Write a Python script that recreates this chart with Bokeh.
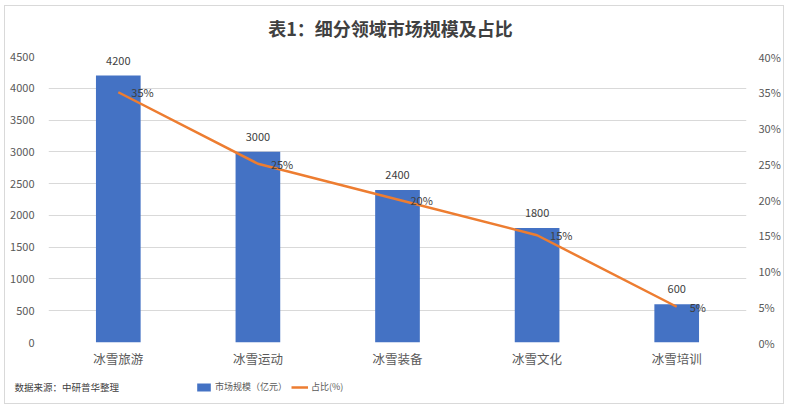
from bokeh.plotting import figure
from bokeh.models import (ColumnDataSource, FactorRange, Range1d, LinearAxis, FixedTicker,
                          PrintfTickFormatter, Label, Legend, LegendItem)
from bokeh.layouts import column
from bokeh.core.properties import value
from bokeh.embed import file_html
from bokeh.resources import INLINE

categories = ["冰雪旅游", "冰雪运动", "冰雪装备", "冰雪文化", "冰雪培训"]
market_size = [4200, 3000, 2400, 1800, 600]
share_pct = [35, 25, 20, 15, 5]
left_ticks = [0, 500, 1000, 1500, 2000, 2500, 3000, 3500, 4000, 4500]
right_ticks = [0, 5, 10, 15, 20, 25, 30, 35, 40]
title_text = "表1：细分领域市场规模及占比"
source_text = "数据来源：中研普华整理"
bar_name = "市场规模（亿元）"
line_name = "占比(%)"

FONT = "Noto Sans CJK SC"
TXT = "#595959"
BLUE = "#4472C4"
ORANGE = "#ED7D31"
W = 778


def blank_fig(h):
    fig = figure(width=W, height=h, x_range=Range1d(0, 10), y_range=Range1d(0, 10),
                 output_backend="svg", toolbar_location=None, title=None,
                 x_axis_location=None, y_axis_location=None,
                 min_border=0, min_border_left=0, min_border_right=0,
                 min_border_top=0, min_border_bottom=0)
    fig.grid.visible = False
    fig.outline_line_color = None
    fig.background_fill_color = "white"
    fig.border_fill_color = "white"
    fig.frame_align = False
    return fig


src = ColumnDataSource(dict(
    cat=categories, size=market_size, pct=share_pct,
    size_lbl=[str(v) for v in market_size],
    pct_lbl=[f"{v}%" for v in share_pct],
))

# header with title
hdr = blank_fig(40)
hdr.add_layout(Label(x=385, y=19, x_units="screen", y_units="screen", text=title_text,
                     text_align="center", text_baseline="middle", text_font=FONT,
                     text_font_size="18px", text_font_style="bold",
                     text_color="#404040"))

p = figure(width=W, height=330, x_range=FactorRange(*categories, range_padding=0),
           y_range=Range1d(0, 4500), output_backend="svg", toolbar_location=None,
           title=None, min_border_left=43, min_border_right=37, min_border_top=10,
           min_border_bottom=34)
p.frame_align = False
p.outline_line_color = None
p.background_fill_color = "white"
p.border_fill_color = "white"
p.extra_y_ranges = {"pct": Range1d(0, 40)}

p.xgrid.grid_line_color = None
p.ygrid.grid_line_color = "#d9d9d9"
p.ygrid.grid_line_width = 1

ya = p.yaxis[0]
ya.ticker = FixedTicker(ticks=left_ticks)
ya.axis_line_color = None
ya.major_tick_line_color = None
ya.minor_tick_line_color = None
ya.major_label_text_font = FONT
ya.major_label_text_font_size = "11px"
ya.major_label_text_color = TXT
ya.major_label_standoff = 8

xa = p.xaxis[0]
xa.axis_line_color = None
xa.major_tick_line_color = None
xa.major_label_text_font = FONT
xa.major_label_text_font_size = "12.5px"
xa.major_label_text_color = TXT
xa.major_label_standoff = 0

ra = LinearAxis(y_range_name="pct", ticker=FixedTicker(ticks=right_ticks),
                formatter=PrintfTickFormatter(format="%d%%"))
ra.axis_line_color = None
ra.major_tick_line_color = None
ra.minor_tick_line_color = None
ra.major_label_text_font = FONT
ra.major_label_text_font_size = "11px"
ra.major_label_text_color = TXT
ra.major_label_standoff = 6
p.add_layout(ra, "right")

p.vbar(x="cat", top="size", width=0.32, source=src, fill_color=BLUE, line_color=None)
p.line(x="cat", y="pct", source=src, y_range_name="pct", line_color=ORANGE,
       line_width=2.5)

p.text(x="cat", y="size", text="size_lbl", source=src, text_align="center",
       text_baseline="bottom", y_offset=-11, text_font=value(FONT),
       text_font_size="11px", text_color="#404040")
p.text(x="cat", y="pct", text="pct_lbl", source=src, y_range_name="pct",
       text_align="left", text_baseline="middle", x_offset=13,
       text_font=value(FONT), text_font_size="11px", text_color="#404040")

# footer row: source note + legend
f = blank_fig(27)
lb = f.vbar(x=[-5], top=[-5], width=1, fill_color=BLUE, line_color=None)
ll = f.line(x=[-5, -6], y=[-5, -5], line_color=ORANGE, line_width=2.5)

f.add_layout(Label(x=9, y=17, x_units="screen", y_units="screen", text=source_text,
                   text_align="left", text_baseline="middle", text_font=FONT,
                   text_font_size="9.5px", text_color="#404040"))

legend = Legend(items=[LegendItem(label=bar_name, renderers=[lb]),
                       LegendItem(label=line_name, renderers=[ll])],
                location=(190, 10), orientation="horizontal",
                glyph_width=17, glyph_height=10, label_standoff=3, spacing=4,
                padding=0, margin=0, border_line_color=None,
                background_fill_alpha=0, label_text_font=FONT,
                label_text_font_size="9px", label_text_color=TXT,
                label_height=12)
f.add_layout(legend)

layout = column(hdr, p, f, spacing=0)
layout.styles = {"border": "1px solid #d9d9d9", "margin-left": "4px", "margin-top": "5px"}

open("out.html", "w").write(file_html(layout, INLINE))
